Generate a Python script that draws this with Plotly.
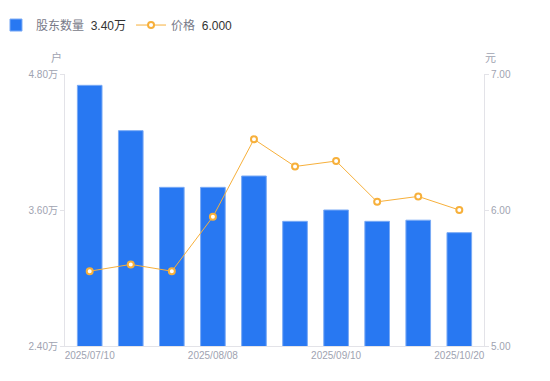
import plotly.graph_objects as go

dates = ["2025/07/10", "2025/07/21", "2025/07/31", "2025/08/08", "2025/08/20",
         "2025/08/29", "2025/09/10", "2025/09/19", "2025/09/30", "2025/10/20"]
holders_wan = [4.70, 4.30, 3.80, 3.80, 3.90, 3.50, 3.60, 3.50, 3.51, 3.40]
price = [5.55, 5.60, 5.55, 5.95, 6.52, 6.32, 6.36, 6.06, 6.10, 6.00]

x_tick_dates = ["2025/07/10", "2025/08/08", "2025/09/10", "2025/10/20"]
left_ticks = [2.4, 3.6, 4.8]
left_tick_text = ["2.40万", "3.60万", "4.80万"]
right_ticks = [5.0, 6.0, 7.0]
right_tick_text = ["5.00", "6.00", "7.00"]

FONT = "Liberation Sans, Arial, Noto Sans CJK SC, sans-serif"
AXIS_COLOR = "#e3e3e8"
TICK_FONT_COLOR = "#a0a3b1"
LABEL_COLOR = "#787a88"

fig = go.Figure()
fig.add_trace(go.Bar(
    x=dates, y=holders_wan,
    name="<span style='color:%s'>股东数量</span>  <span style='color:#333'>%.2f万</span>" % (LABEL_COLOR, holders_wan[-1]),
    marker=dict(color="#2878f2", line=dict(color="#7aaaf5", width=1)),
    yaxis="y",
))
fig.add_trace(go.Scatter(
    x=dates, y=price, mode="lines+markers",
    name="<span style='color:%s'>价格</span>  <span style='color:#333'>%.3f</span>" % (LABEL_COLOR, price[-1]),
    line=dict(color="#f7b03b", width=1),
    marker=dict(symbol="circle", size=6, color="#ffffff", line=dict(color="#f7b03b", width=2)),
    yaxis="y2",
))

fig.update_layout(
    width=550, height=381,
    margin=dict(l=65, r=66, t=74, b=35, autoexpand=False),
    paper_bgcolor="white", plot_bgcolor="white",
    font=dict(family=FONT, size=10, color=TICK_FONT_COLOR),
    bargap=0.4,
    showlegend=True,
    legend=dict(orientation="h", x=-0.1647, xanchor="left", y=1.180, yanchor="middle",
                font=dict(size=12, color="#333"), itemclick=False,
                traceorder="normal", bgcolor="rgba(0,0,0,0)"),
    xaxis=dict(type="category", showgrid=False, showline=True, linecolor=AXIS_COLOR, linewidth=1,
               tickvals=x_tick_dates, ticktext=x_tick_dates, ticks="", automargin=False,
               tickfont=dict(size=10, color=TICK_FONT_COLOR), zeroline=False),
    yaxis=dict(range=[2.4, 4.8], tickvals=left_ticks, ticktext=left_tick_text, showgrid=False,
               showline=True, linecolor=AXIS_COLOR, linewidth=1, ticks="outside", ticklen=4,
               tickcolor=AXIS_COLOR, automargin=False,
               tickfont=dict(size=10, color=TICK_FONT_COLOR), zeroline=False),
    yaxis2=dict(range=[5.0, 7.0], tickvals=right_ticks, ticktext=right_tick_text, overlaying="y",
                side="right", showgrid=False, showline=True, linecolor=AXIS_COLOR, linewidth=1,
                ticks="outside", ticklen=4, tickcolor=AXIS_COLOR, automargin=False,
                tickfont=dict(size=10, color=TICK_FONT_COLOR), zeroline=False),
    annotations=[
        dict(text="户", xref="paper", yref="paper", x=0, y=1, xanchor="right", yanchor="bottom",
             xshift=-1, yshift=8, showarrow=False, font=dict(size=11, color=TICK_FONT_COLOR)),
        dict(text="元", xref="paper", yref="paper", x=1, y=1, xanchor="left", yanchor="bottom",
             xshift=-1, yshift=8, showarrow=False, font=dict(size=11, color=TICK_FONT_COLOR)),
    ],
)

fig.write_html("out.html", config={"displayModeBar": False},
               post_script="document.body.style.margin='0';")
